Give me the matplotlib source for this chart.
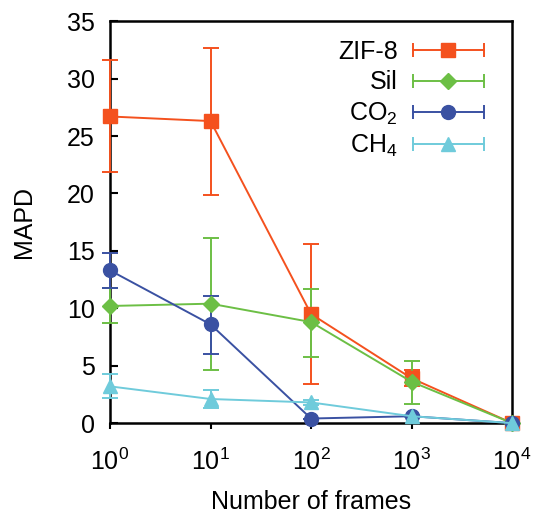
import matplotlib
matplotlib.use("Agg")
import matplotlib.pyplot as plt
from matplotlib.lines import Line2D
from matplotlib.legend_handler import HandlerLine2D, HandlerTuple
import numpy as np

plt.rcParams['font.family'] = ['Liberation Sans', 'DejaVu Sans']
plt.rcParams['mathtext.fontset'] = 'custom'
plt.rcParams['mathtext.rm'] = 'Liberation Sans'

frames = [1, 10, 100, 1000, 10000]

zif_vals = [26.7, 26.3, 9.5, 3.9, 0.0]
zif_lo = [21.9, 19.9, 3.4, 3.2, 0.0]
zif_hi = [31.6, 32.7, 15.6, 4.6, 0.0]

sil_vals = [10.2, 10.4, 8.8, 3.6, 0.0]
sil_lo = [8.7, 4.6, 5.8, 1.7, 0.0]
sil_hi = [11.8, 16.1, 11.7, 5.4, 0.0]

co2_vals = [13.3, 8.6, 0.4, 0.6, 0.0]
co2_lo = [11.8, 6.0, 0.4, 0.6, 0.0]
co2_hi = [14.8, 11.1, 0.4, 0.6, 0.0]

ch4_vals = [3.2, 2.1, 1.8, 0.6, 0.0]
ch4_lo = [2.2, 1.3, 1.6, 0.5, 0.0]
ch4_hi = [4.3, 2.9, 2.0, 0.7, 0.0]

series = [
    ("ZIF-8", zif_vals, zif_lo, zif_hi, "#F4511E", "s", 10),
    ("Sil", sil_vals, sil_lo, sil_hi, "#6CBF45", "D", 8),
    ("CO$_2$", co2_vals, co2_lo, co2_hi, "#3A51A2", "o", 10),
    ("CH$_4$", ch4_vals, ch4_lo, ch4_hi, "#6FCBDB", "^", 10),
]

fig = plt.figure(figsize=(5.34, 5.16), dpi=100)
ax = fig.add_axes([0.206, 0.180, 0.753, 0.779])

handles, labels, hmap = [], [], {}
for name, v, lo, hi, c, m, ms in series:
    v = np.array(v); lo = np.array(lo); hi = np.array(hi)
    yerr = np.vstack([v - lo, hi - v])
    ax.errorbar(frames, v, yerr=yerr, color=c, marker=m, markersize=ms,
                linewidth=1.4, elinewidth=1.4, capsize=5.5, capthick=1.4,
                clip_on=False, zorder=3)
    caps = Line2D([], [], color=c, marker='|', markersize=10, markeredgewidth=1.4,
                  linewidth=1.4)
    mk = Line2D([], [], color=c, marker=m, markersize=ms, linestyle='none')
    hmap[caps] = HandlerLine2D(numpoints=2, marker_pad=0)
    hmap[mk] = HandlerLine2D(numpoints=1)
    handles.append((caps, mk))
    labels.append(name)
hmap[tuple] = HandlerTuple(ndivide=1, pad=0)

ax.set_xscale('log')
ax.set_xlim(1, 10000)
ax.set_ylim(0, 35)
ax.set_yticks([0, 5, 10, 15, 20, 25, 30, 35])
ax.set_xticks(frames)
ax.set_xticklabels(['$10^{0}$', '$10^{1}$', '$10^{2}$', '$10^{3}$', '$10^{4}$'])
ax.minorticks_off()
ax.tick_params(axis='y', direction='in', length=6, width=1.5, labelsize=18, pad=11)
ax.tick_params(axis='x', direction='out', length=4, width=1.5, labelsize=18, pad=14)
for s in ax.spines.values():
    s.set_linewidth(1.8)

ax.set_xlabel('Number of frames', fontsize=18, labelpad=11)
ax.set_ylabel('MAPD', fontsize=18, labelpad=22)

leg = ax.legend(handles, labels, handler_map=hmap, loc='upper right',
                markerfirst=False, frameon=False, fontsize=18,
                handlelength=2.85, labelspacing=0.25, borderaxespad=0.0,
                handletextpad=0.6, borderpad=0.0,
                bbox_to_anchor=(484 / 534, 1 - 40 / 516),
                bbox_transform=fig.transFigure)

fig.savefig('out.png', dpi=100)
